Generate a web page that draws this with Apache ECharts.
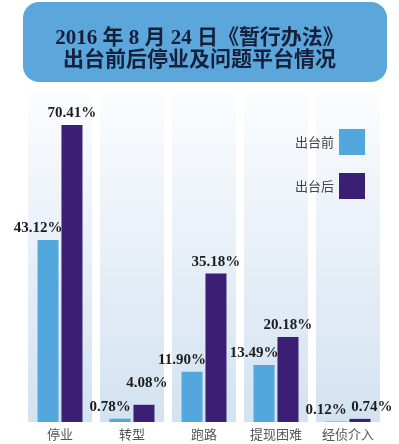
<!DOCTYPE html>
<html>
<head>
<meta charset="utf-8">
<script src="https://cdn.jsdelivr.net/npm/echarts@6/dist/echarts.min.js"></script>
<style>
  html, body { margin: 0; padding: 0; background: #fff; }
  #chart { width: 399px; height: 444px; }
</style>
</head>
<body>
<div id="chart"></div>
<script>
// 数据
var categories = ['停业', '转型', '跑路', '提现困难', '经侦介入']
var seriesNames = ['出台前', '出台后']
var beforeValues = [43.12, 0.78, 11.90, 13.49, 0.12]
var afterValues = [70.41, 4.08, 35.18, 20.18, 0.74]
var panelMax = 78

// 个别标签错开，避免重叠
var afterLabelShift = { 1: [3, -10], 4: [12, 0] }

var myChart = echarts.init(document.getElementById('chart'))

var labelFont = {
  fontFamily: '"Liberation Serif", "DejaVu Serif", serif',
  fontWeight: 'bold',
  fontSize: 15,
  color: '#1c1c1c'
}

var option = {
  animation: false,
  title: {
    text: '2016 年 8 月 24 日《暂行办法》\n出台前后停业及问题平台情况',
    left: 'center',
    top: 23,
    textStyle: {
      fontFamily: '"Liberation Serif", "Noto Sans CJK SC", serif',
      fontSize: 21,
      lineHeight: 22,
      fontWeight: 'bold',
      color: '#16203a'
    }
  },
  graphic: [
    {
      type: 'rect',
      z: -1,
      shape: { x: 23, y: 2, width: 364, height: 80, r: 16 },
      style: { fill: '#5ba7dc' }
    }
  ],
  legend: {
    data: seriesNames,
    orient: 'vertical',
    right: 29,
    top: 124,
    align: 'right',
    icon: 'rect',
    itemWidth: 26,
    itemHeight: 26,
    itemGap: 18,
    textStyle: { fontSize: 13, color: '#444', fontFamily: '"Noto Sans CJK SC", sans-serif' }
  },
  grid: { left: 24, right: 15, top: 93, bottom: 22 },
  xAxis: [
    {
      type: 'category',
      data: categories,
      axisLine: { show: false },
      axisTick: { show: false },
      axisLabel: {
        margin: 6,
        fontSize: 13,
        color: '#555',
        fontFamily: '"Noto Sans CJK SC", sans-serif'
      }
    },
    { type: 'category', data: categories, show: false }
  ],
  yAxis: { type: 'value', min: 0, max: panelMax, show: false },
  series: [
    {
      // 背景柱
      type: 'bar',
      xAxisIndex: 1,
      silent: true,
      barWidth: 64,
      z: 1,
      data: categories.map(function () { return panelMax }),
      itemStyle: {
        color: new echarts.graphic.LinearGradient(0, 0, 0, 1, [
          { offset: 0, color: '#fbfcfe' },
          { offset: 1, color: '#d3e2f1' }
        ])
      }
    },
    {
      name: seriesNames[0],
      type: 'bar',
      barWidth: 21,
      barGap: '14%',
      z: 3,
      data: beforeValues,
      itemStyle: { color: '#52a8dc' },
      label: Object.assign({
        show: true,
        position: 'top',
        distance: 4,
        offset: [-10, 0],
        formatter: function (p) { return p.value.toFixed(2) + '%' }
      }, labelFont)
    },
    {
      name: seriesNames[1],
      type: 'bar',
      barWidth: 21,
      z: 3,
      data: afterValues.map(function (v, i) {
        var item = { value: v }
        if (afterLabelShift[i]) item.label = { offset: afterLabelShift[i] }
        return item
      }),
      itemStyle: { color: '#3a1f74' },
      label: Object.assign({
        show: true,
        position: 'top',
        distance: 4,
        formatter: function (p) { return p.value.toFixed(2) + '%' }
      }, labelFont)
    }
  ]
}

myChart.setOption(option)
</script>
</body>
</html>
